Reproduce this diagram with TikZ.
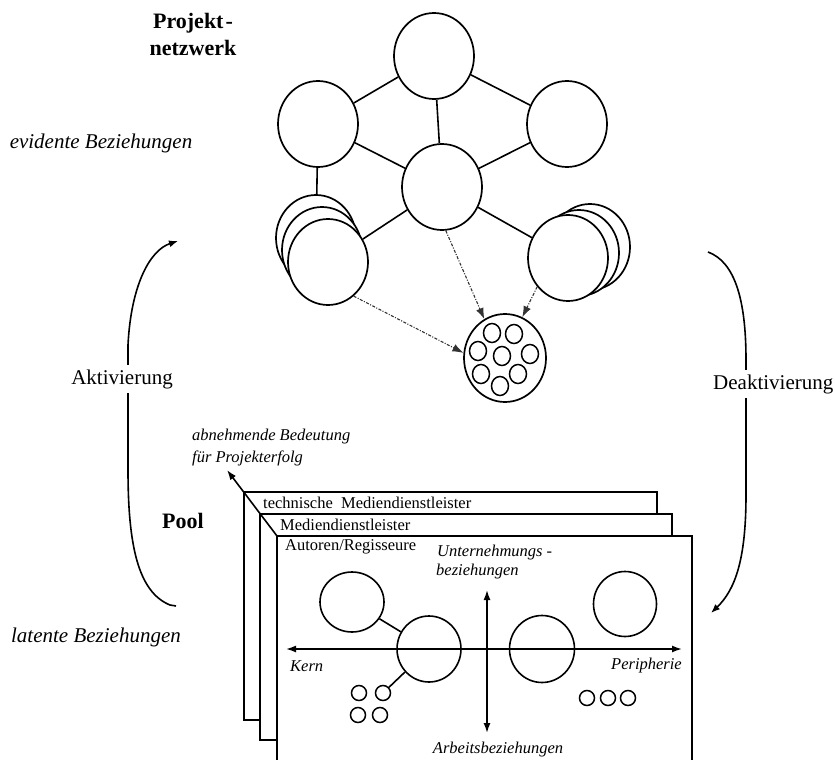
\documentclass[tikz,border=0pt]{standalone}
\usepackage{fontspec}
\setmainfont{Liberation Serif}
\usetikzlibrary{shapes.geometric,arrows.meta}
\begin{document}
\begin{tikzpicture}[x=1pt,y=-1pt,
  bub/.style={ellipse,draw,fill=white,line width=1.7pt,inner sep=0pt,minimum width=80pt,minimum height=86pt},
  pc/.style={ellipse,draw,fill=white,line width=1.6pt,inner sep=0pt},
  tiny/.style={ellipse,draw,fill=white,line width=1.5pt,inner sep=0pt,minimum width=17pt,minimum height=19pt},
  dotc/.style={circle,draw,line width=1.5pt,inner sep=0pt,minimum size=15pt},
  link/.style={line width=1.6pt},
  dd/.style={line width=1.1pt,black!80,dash pattern=on 3pt off 1.5pt on 1pt off 1.5pt,-{Latex[length=11pt,width=8pt]}},
  bigtxt/.style={font=\fontsize{21}{25}\selectfont,inner sep=1pt},
  boldtxt/.style={font=\fontsize{22}{27}\selectfont\bfseries,inner sep=1pt,align=center},
  smalltxt/.style={font=\fontsize{16.5}{20}\selectfont,inner sep=0pt},
  itxt/.style={font=\fontsize{16.5}{20}\selectfont\itshape,inner sep=0pt},
  curve/.style={line width=1.6pt},
  boxline/.style={line width=1.6pt,fill=white}]
\useasboundingbox (0,0) rectangle (835,760);

% ---------- Projektnetzwerk ----------
\node[bub] (top) at (434,56) {};
\node[bub] (left) at (318,124) {};
\node[bub] (right) at (567,124) {};
\node[bub] (center) at (442,187) {};
\node[bub] (lsb) at (316,238) {};
\node[bub] (lsm) at (322,250) {};
\node[bub] (lsf) at (328,262) {};
\node[bub] (rsb) at (590,247) {};
\node[bub] (rsm) at (579,253) {};
\node[bub] (rsf) at (568,258) {};

\draw[link] (top) -- (left);
\draw[link] (top) -- (right);
\draw[link] (top) -- (center);
\draw[link] (left) -- (center);
\draw[link] (right) -- (center);
\draw[link] (left) -- (lsb);
\draw[link] (center) -- (lsf);
\draw[link] (center) -- (rsf);

\node[bub,minimum width=82pt,minimum height=88pt] (pool) at (505,358) {};
\node[tiny] (p1) at (492,333) {};
\node[tiny] (p2) at (514,334) {};
\node[tiny] (p3) at (478,351) {};
\node[tiny] (p4) at (502,356) {};
\node[tiny] (p5) at (530,354) {};
\node[tiny] (p6) at (481,374) {};
\node[tiny] (p7) at (518,374) {};
\node[tiny] (p8) at (500,386) {};

\draw[dd] (center.275) -- (pool.118);
\draw[dd] (rsf.223) -- (pool.67);
\draw[dd] (lsf.307) -- (pool.173);

\node[boldtxt] (pn) at (193,34) {Projekt\kern2pt-\\netzwerk};
\node[bigtxt,font=\fontsize{21}{25}\selectfont\itshape] (evid) at (101,143) {evidente Beziehungen};
\node[bigtxt,font=\fontsize{21}{25}\selectfont\itshape] (lat) at (96,637) {latente Beziehungen};

% ---------- Aktivierung / Deaktivierung ----------
\coordinate (aS) at (176,606);
\coordinate (aE) at (178,241);
\draw[curve,-{Latex[length=9pt,width=7pt]}] (aS) -- (170,605) .. controls (138,592) and (128,545) .. (128,470) -- (128,345) .. controls (131,285) and (150,250) .. (aE);
\node[bigtxt,fill=white,inner sep=4pt] (akt) at (122,379) {Aktivierung};

\coordinate (dS) at (708,252);
\coordinate (dE) at (711,613);
\draw[curve,-{Latex[length=9pt,width=7pt]}] (dS) .. controls (735,262) and (746,300) .. (746,360) -- (746,495) .. controls (746,560) and (735,590) .. (dE);
\node[bigtxt,fill=white,inner sep=4pt,anchor=west] (deakt) at (709,384) {Deaktivierung};

% ---------- Pool ----------
\node[boldtxt] (poolt) at (183,521) {Pool};

\coordinate (bk) at (244,492);
\coordinate (md) at (260,514);
\coordinate (fr) at (277,536);
\coordinate (tip) at (227,470);
\draw[boxline] (bk) rectangle (657,720);
\draw[boxline] (md) rectangle (672,740);
\draw[boxline] (fr) rectangle (692,775);
\draw[line width=1.6pt,-{Latex[length=10pt,width=7pt]}] (fr) -- (tip);

\node[smalltxt,anchor=west] (t1) at (263,503) {technische\ \ Mediendienstleister};
\node[smalltxt,anchor=west] (t2) at (280,525) {Mediendienstleister};
\node[smalltxt,anchor=west] (t3) at (285,547) {Autoren/Regisseure};

\node[itxt,anchor=west] (ab1) at (192,437) {abnehmende Bedeutung};
\node[itxt,anchor=west] (ab2) at (192,458) {für Projekterfolg};

\node[pc,minimum width=64pt,minimum height=60pt] (ca) at (352,602) {};
\node[pc,minimum width=64pt,minimum height=66pt] (cb) at (429,649) {};
\node[pc,minimum width=65pt,minimum height=67pt] (cc) at (542,649) {};
\node[pc,minimum width=63pt,minimum height=65pt] (cd) at (625,604) {};

\node[dotc] (s1) at (359,693) {};
\node[dotc] (s2) at (383,693) {};
\node[dotc] (s3) at (358,715) {};
\node[dotc] (s4) at (380,715) {};
\node[dotc] (r1) at (587,698) {};
\node[dotc] (r2) at (608,698) {};
\node[dotc] (r3) at (628,698) {};

\draw[link] (ca) -- (cb);
\draw[link] (cb) -- (s2);

\coordinate (hl) at (286,649);
\coordinate (hr) at (682,649);
\coordinate (vt) at (487,590);
\coordinate (vb) at (487,733);
\draw[line width=1.6pt,{Latex[length=10pt,width=7pt]}-{Latex[length=10pt,width=7pt]}] (hl) -- (hr);
\draw[line width=1.6pt,{Latex[length=10pt,width=7pt]}-{Latex[length=10pt,width=7pt]}] (vt) -- (vb);

\node[itxt,anchor=west] (un1) at (437,553) {Unternehmungs -};
\node[itxt,anchor=west] (un2) at (436,572) {beziehungen};
\node[itxt,anchor=west] (kern) at (290,666) {Kern};
\node[itxt,anchor=east] (peri) at (682,666) {Peripherie};
\node[itxt] (arb) at (498,750) {Arbeitsbeziehungen};
\end{tikzpicture}
\end{document}
